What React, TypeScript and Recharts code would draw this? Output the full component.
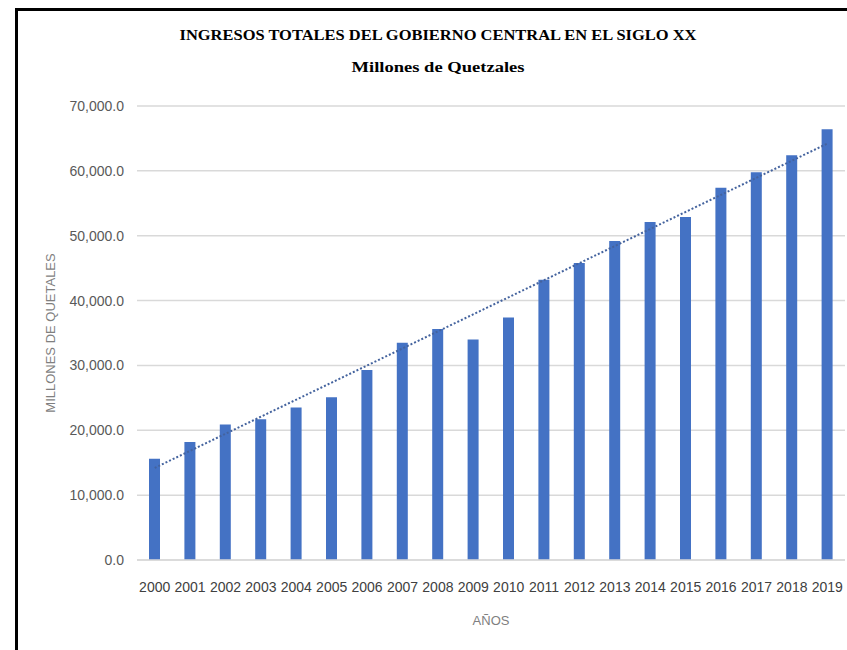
import React from "react";
import { ComposedChart, Bar, Line, XAxis, YAxis, CartesianGrid } from "recharts";

const years = ["2000","2001","2002","2003","2004","2005","2006","2007","2008","2009","2010","2011","2012","2013","2014","2015","2016","2017","2018","2019"];
const ingresos = [15600, 18200, 20900, 21700, 23500, 25100, 29300, 33500, 35600, 34000, 37400, 43200, 45800, 49200, 52100, 52900, 57400, 59800, 62400, 66400];
const trendEnds = { first: 14200, last: 64200 };
const yTicks = [0, 10000, 20000, 30000, 40000, 50000, 60000, 70000];

const data = years.map((y, i) => ({
  year: y,
  ingresos: ingresos[i],
  trend: i === 0 ? trendEnds.first : i === years.length - 1 ? trendEnds.last : null,
}));

const fmt = (v: number) =>
  v.toLocaleString("en-US", { minimumFractionDigits: 1, maximumFractionDigits: 1 });

export default function App() {
  return (
    <div style={{ position: "absolute", left: 0, top: 0, width: 847, height: 650, background: "#fff", overflow: "hidden" }}>
      <div style={{ position: "absolute", left: 15, top: 8, width: 900, height: 700, borderLeft: "3px solid #000", borderTop: "3px solid #000", boxSizing: "border-box" }} />
      <div style={{ position: "absolute", left: 0, top: 0 }}>
        <ComposedChart width={847} height={650} data={data} margin={{ top: 106, right: 2, bottom: 60, left: 0 }}>
          <CartesianGrid vertical={false} stroke="#d9d9d9" strokeWidth={1.5} />
          <XAxis
            dataKey="year"
            height={30}
            tickLine={false}
            tickSize={0}
            tickMargin={22}
            axisLine={{ stroke: "#d9d9d9", strokeWidth: 1.5 }}
            interval={0}
            tick={{ fill: "#404040", fontSize: 14, fontFamily: "Liberation Sans" }}
          />
          <YAxis
            width={137}
            domain={[0, 70000]}
            ticks={yTicks}
            tickFormatter={fmt}
            axisLine={false}
            tickLine={false}
            tickSize={0}
            tickMargin={13}
            tick={{ fill: "#595959", fontSize: 14, fontFamily: "Liberation Sans" }}
          />
          <Bar dataKey="ingresos" fill="#4472C4" barSize={11} isAnimationActive={false} />
          <Line
            dataKey="trend"
            connectNulls
            dot={false}
            stroke="#44639e"
            strokeWidth={2}
            strokeDasharray="2 2"
            isAnimationActive={false}
          />
        </ComposedChart>
      </div>
      <svg width={847} height={650} style={{ position: "absolute", left: 0, top: 0, pointerEvents: "none" }}>
        <text x={438} y={40} textAnchor="middle" fontFamily="Liberation Serif" fontWeight="bold" fontSize={15} fill="#000" textLength={517} lengthAdjust="spacingAndGlyphs">
          INGRESOS TOTALES DEL GOBIERNO CENTRAL EN EL SIGLO XX
        </text>
        <text x={438} y={72} textAnchor="middle" fontFamily="Liberation Serif" fontWeight="bold" fontSize={15} fill="#000" textLength={173} lengthAdjust="spacingAndGlyphs">
          Millones de Quetzales
        </text>
        <text x={491} y={625} textAnchor="middle" fontFamily="Liberation Sans" fontSize={13} fill="#7f7f7f">
          AÑOS
        </text>
        <text x={0} y={0} transform="translate(55,333) rotate(-90)" textAnchor="middle" fontFamily="Liberation Sans" fontSize={13} fill="#7f7f7f">
          MILLONES DE QUETALES
        </text>
      </svg>
    </div>
  );
}
